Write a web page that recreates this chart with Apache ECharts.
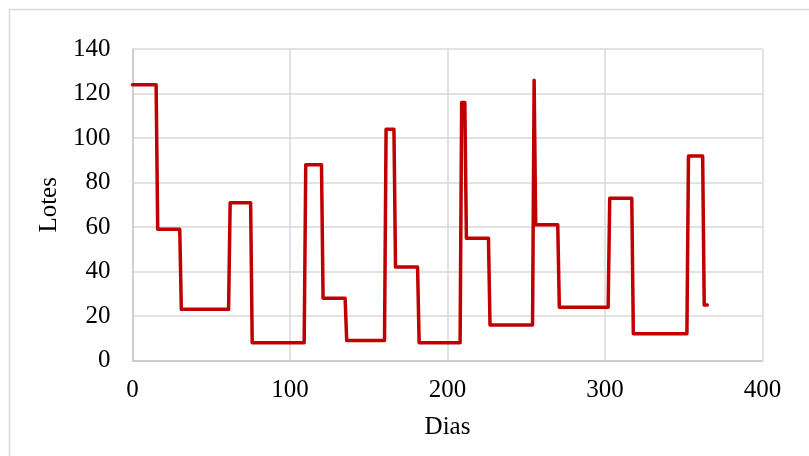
<!DOCTYPE html>
<html>
<head>
<meta charset="utf-8">
<script src="https://cdn.jsdelivr.net/npm/echarts@6/dist/echarts.min.js"></script>
<style>
html,body{margin:0;padding:0;background:#fff;}
#chart{width:809px;height:456px;}
</style>
</head>
<body>
<div id="chart"></div>
<script>
// Corner points of the stepped line
const dias = [0,15,16,30,31,61,62,75,76,109,110,120,121,135,136,160,161,166,167,181,182,208,209,211,212,226,227,254,255,256,270,271,302,303,317,318,352,353,362,363,365];
const lotes = [124,124,59,59,23,23,71,71,8,8,88,88,28,28,9,9,104,104,42,42,8,8,116,116,55,55,16,16,126,61,61,24,24,73,73,12,12,92,92,25,25];
const xTicks = [0,100,200,300,400];
const yTicks = [0,20,40,60,80,100,120,140];
const xName = 'Dias';
const yName = 'Lotes';

const seriesData = dias.map((d,i)=>[d, lotes[i]]);
const font = '"Liberation Serif","Times New Roman",serif';

const chart = echarts.init(document.getElementById('chart'), null, {renderer:'canvas'});
chart.setOption({
  animation:false,
  backgroundColor:'#ffffff',
  graphic:[{
    type:'rect', left:7, top:7, z:-10,
    shape:{x:0,y:0,width:850,height:500},
    style:{fill:'none', stroke:'#d9d9d9', lineWidth:1.5}
  }],
  grid:{left:132.5, right:46.5, top:49.2, bottom:95.5, containLabel:false},
  xAxis:{
    type:'value', min:xTicks[0], max:xTicks[xTicks.length-1], interval:100,
    name:xName, nameLocation:'middle', nameGap:54,
    nameTextStyle:{fontFamily:font, fontSize:25, color:'#000'},
    axisLine:{show:true, lineStyle:{color:'#c8c8c8', width:1.5}},
    axisTick:{show:false},
    axisLabel:{fontFamily:font, fontSize:25, color:'#000', margin:17},
    splitLine:{show:true, lineStyle:{color:'#d9d9d9', width:1.5}}
  },
  yAxis:{
    type:'value', min:yTicks[0], max:yTicks[yTicks.length-1], interval:20,
    name:yName, nameLocation:'middle', nameGap:68,
    nameTextStyle:{fontFamily:font, fontSize:25, color:'#000'},
    axisLine:{show:true, lineStyle:{color:'#c8c8c8', width:1.5}},
    axisTick:{show:false},
    axisLabel:{fontFamily:font, fontSize:25, color:'#000', margin:22},
    splitLine:{show:true, lineStyle:{color:'#d9d9d9', width:1.5}}
  },
  series:[{
    type:'line', data:seriesData, showSymbol:false, symbol:'none',
    lineStyle:{color:'#c00000', width:3.5, join:'round', cap:'round'},
    itemStyle:{color:'#c00000'}
  }]
});
</script>
</body>
</html>
